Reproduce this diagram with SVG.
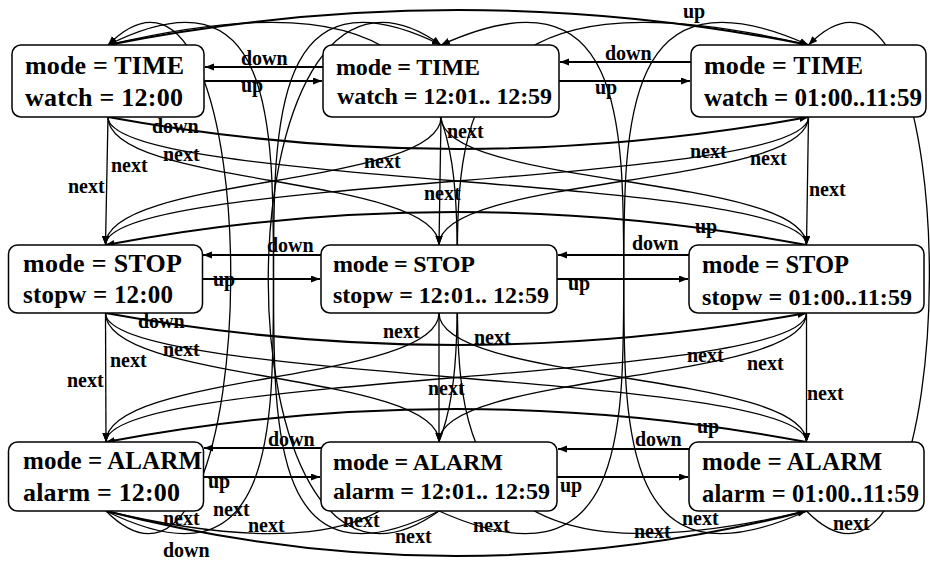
<svg xmlns="http://www.w3.org/2000/svg" width="930" height="562" viewBox="0 0 930 562">
<style>
.box{fill:#fff;stroke:#000;stroke-width:1.5}
.t{font-family:"Liberation Serif","Times New Roman",serif;font-weight:bold;fill:#000}
.lbl{font-family:"Liberation Serif","Times New Roman",serif;font-weight:bold;font-size:20px;fill:#000}
.h{fill:none;stroke:#000;stroke-width:2;marker-end:url(#ah)}
.w{fill:none;stroke:#000;stroke-width:2;marker-end:url(#ah)}
.c{fill:none;stroke:#000;stroke-width:1.3;marker-end:url(#ah)}
</style>
<defs>
<marker id="ah" markerUnits="userSpaceOnUse" markerWidth="10" markerHeight="8" refX="9" refY="3.5" orient="auto">
<path d="M0,0 L9,3.5 L0,7 z" fill="#000"/>
</marker>
</defs>
<rect width="930" height="562" fill="#fff"/>
<g id="connectors">
<path class="h" d="M323,67 L205,67"/>
<path class="h" d="M204,81 L322,81"/>
<path class="h" d="M691,62 L560,62"/>
<path class="h" d="M559,81 L690,81"/>
<path class="h" d="M321,255 L203,255"/>
<path class="h" d="M202.5,279 L320,279"/>
<path class="h" d="M689,255 L558,255"/>
<path class="h" d="M557,279 L688,279"/>
<path class="h" d="M321,448 L204,448"/>
<path class="h" d="M203.5,477 L320,477"/>
<path class="h" d="M689,449 L558,449"/>
<path class="h" d="M557,477 L688,477"/>
<path class="c" d="M108,117 L105.5,245"/>
<path class="c" d="M105.5,313 L106,442"/>
<path class="c" d="M441,117 L439,245"/>
<path class="c" d="M439,313 L439,442"/>
<path class="c" d="M808.5,117 L806.5,245"/>
<path class="c" d="M806.5,313 L806.5,442"/>
<path class="w" d="M108,117 Q458,181 808.5,117"/>
<path class="w" d="M808.5,45 Q458,-25 108,45"/>
<path class="w" d="M105.5,313 Q456,377 806.5,313"/>
<path class="w" d="M806.5,245 Q456,179 105.5,245"/>
<path class="w" d="M106,511 Q456,601 806.5,511"/>
<path class="w" d="M806.5,442 Q456,376 106,442"/>
<path class="c" d="M108,117 C108,187 439,175 439,245"/>
<path class="c" d="M108,117 C108,187 806.5,175 806.5,245"/>
<path class="c" d="M441,117 C441,187 105.5,175 105.5,245"/>
<path class="c" d="M441,117 C441,187 806.5,175 806.5,245"/>
<path class="c" d="M808.5,117 C808.5,187 105.5,175 105.5,245"/>
<path class="c" d="M808.5,117 C808.5,187 439,175 439,245"/>
<path class="c" d="M105.5,313 C105.5,383 439,372 439,442"/>
<path class="c" d="M105.5,313 C105.5,383 806.5,372 806.5,442"/>
<path class="c" d="M439,313 C439,383 106,372 106,442"/>
<path class="c" d="M439,313 C439,383 806.5,372 806.5,442"/>
<path class="c" d="M806.5,313 C806.5,383 106,372 106,442"/>
<path class="c" d="M806.5,313 C806.5,383 439,372 439,442"/>
<path class="c" d="M106,511 C271,676 273,-120 108,45"/>
<path class="c" d="M106,511 C441,676 106,-120 441,45"/>
<path class="c" d="M106,511 C808.5,676 106,-120 808.5,45"/>
<path class="c" d="M439,511 C108,676 439,-120 108,45"/>
<path class="c" d="M439,511 C210,676 212,-120 441,45"/>
<path class="c" d="M439,511 C808.5,676 439,-120 808.5,45"/>
<path class="c" d="M806.5,511 C108,676 806.5,-120 108,45"/>
<path class="c" d="M806.5,511 C441,676 806.5,-120 441,45"/>
<path class="c" d="M806.5,511 C969,676 971,-120 808.5,45"/>
</g>
<g id="labels">
<text class="lbl" x="241" y="65">down</text>
<text class="lbl" x="241" y="92">up</text>
<text class="lbl" x="605" y="60">down</text>
<text class="lbl" x="595" y="94">up</text>
<text class="lbl" x="683" y="18">up</text>
<text class="lbl" x="152" y="133">down</text>
<text class="lbl" x="163" y="161">next</text>
<text class="lbl" x="111" y="172">next</text>
<text class="lbl" x="68" y="193">next</text>
<text class="lbl" x="447" y="138">next</text>
<text class="lbl" x="364" y="168">next</text>
<text class="lbl" x="424" y="200">next</text>
<text class="lbl" x="690" y="158">next</text>
<text class="lbl" x="750" y="165">next</text>
<text class="lbl" x="809" y="196">next</text>
<text class="lbl" x="267" y="252">down</text>
<text class="lbl" x="213" y="286">up</text>
<text class="lbl" x="632" y="250">down</text>
<text class="lbl" x="568" y="290">up</text>
<text class="lbl" x="695" y="233">up</text>
<text class="lbl" x="138" y="328">down</text>
<text class="lbl" x="163" y="356">next</text>
<text class="lbl" x="110" y="367">next</text>
<text class="lbl" x="67" y="387">next</text>
<text class="lbl" x="383" y="338">next</text>
<text class="lbl" x="474" y="344">next</text>
<text class="lbl" x="428" y="395">next</text>
<text class="lbl" x="687" y="362">next</text>
<text class="lbl" x="747" y="370">next</text>
<text class="lbl" x="807" y="400">next</text>
<text class="lbl" x="268" y="446">down</text>
<text class="lbl" x="208" y="488">up</text>
<text class="lbl" x="635" y="446">down</text>
<text class="lbl" x="560" y="492">up</text>
<text class="lbl" x="697" y="433">up</text>
<text class="lbl" x="213" y="516">next</text>
<text class="lbl" x="163" y="525">next</text>
<text class="lbl" x="248" y="532">next</text>
<text class="lbl" x="163" y="557">down</text>
<text class="lbl" x="343" y="527">next</text>
<text class="lbl" x="395" y="543">next</text>
<text class="lbl" x="473" y="532">next</text>
<text class="lbl" x="682" y="525">next</text>
<text class="lbl" x="634" y="538">next</text>
<text class="lbl" x="833" y="530">next</text>
</g>
<g id="n_time_1200">
<rect class="box" x="12" y="45" width="192" height="72" rx="9"/>
<text class="t" x="25" y="74" font-size="26" textLength="159">mode = TIME</text>
<text class="t" x="25" y="106" font-size="26" textLength="158">watch = 12:00</text>
</g>
<g id="n_time_1201">
<rect class="box" x="323" y="45" width="236" height="72" rx="9"/>
<text class="t" x="336" y="75" font-size="24" textLength="144">mode = TIME</text>
<text class="t" x="337" y="104" font-size="24" textLength="215">watch = 12:01.. 12:59</text>
</g>
<g id="n_time_0100">
<rect class="box" x="691" y="45" width="235" height="72" rx="9"/>
<text class="t" x="704" y="74" font-size="26" textLength="159">mode = TIME</text>
<text class="t" x="704" y="106" font-size="25" textLength="218">watch = 01:00..11:59</text>
</g>
<g id="n_stop_1200">
<rect class="box" x="8.5" y="245" width="194" height="68" rx="9"/>
<text class="t" x="23" y="272" font-size="26" textLength="159">mode = STOP</text>
<text class="t" x="23" y="303" font-size="25" textLength="150">stopw = 12:00</text>
</g>
<g id="n_stop_1201">
<rect class="box" x="321" y="245" width="236" height="68" rx="9"/>
<text class="t" x="333" y="272" font-size="24" textLength="142">mode = STOP</text>
<text class="t" x="333" y="303" font-size="24" textLength="216">stopw = 12:01.. 12:59</text>
</g>
<g id="n_stop_0100">
<rect class="box" x="689" y="245" width="235" height="68" rx="9"/>
<text class="t" x="702" y="273" font-size="24.5" textLength="147">mode = STOP</text>
<text class="t" x="702" y="305" font-size="24" textLength="210">stopw = 01:00..11:59</text>
</g>
<g id="n_alarm_1200">
<rect class="box" x="8.5" y="442" width="195" height="69" rx="9"/>
<text class="t" x="23" y="469" font-size="25" textLength="179">mode = ALARM</text>
<text class="t" x="23" y="501" font-size="26" textLength="157">alarm = 12:00</text>
</g>
<g id="n_alarm_1201">
<rect class="box" x="321" y="442" width="236" height="69" rx="9"/>
<text class="t" x="333" y="470" font-size="24" textLength="170">mode = ALARM</text>
<text class="t" x="333" y="499" font-size="24" textLength="217">alarm = 12:01.. 12:59</text>
</g>
<g id="n_alarm_0100">
<rect class="box" x="689" y="442" width="235" height="69" rx="9"/>
<text class="t" x="702" y="470" font-size="25" textLength="180">mode = ALARM</text>
<text class="t" x="702" y="502" font-size="24.5" textLength="217">alarm = 01:00..11:59</text>
</g>
</svg>
